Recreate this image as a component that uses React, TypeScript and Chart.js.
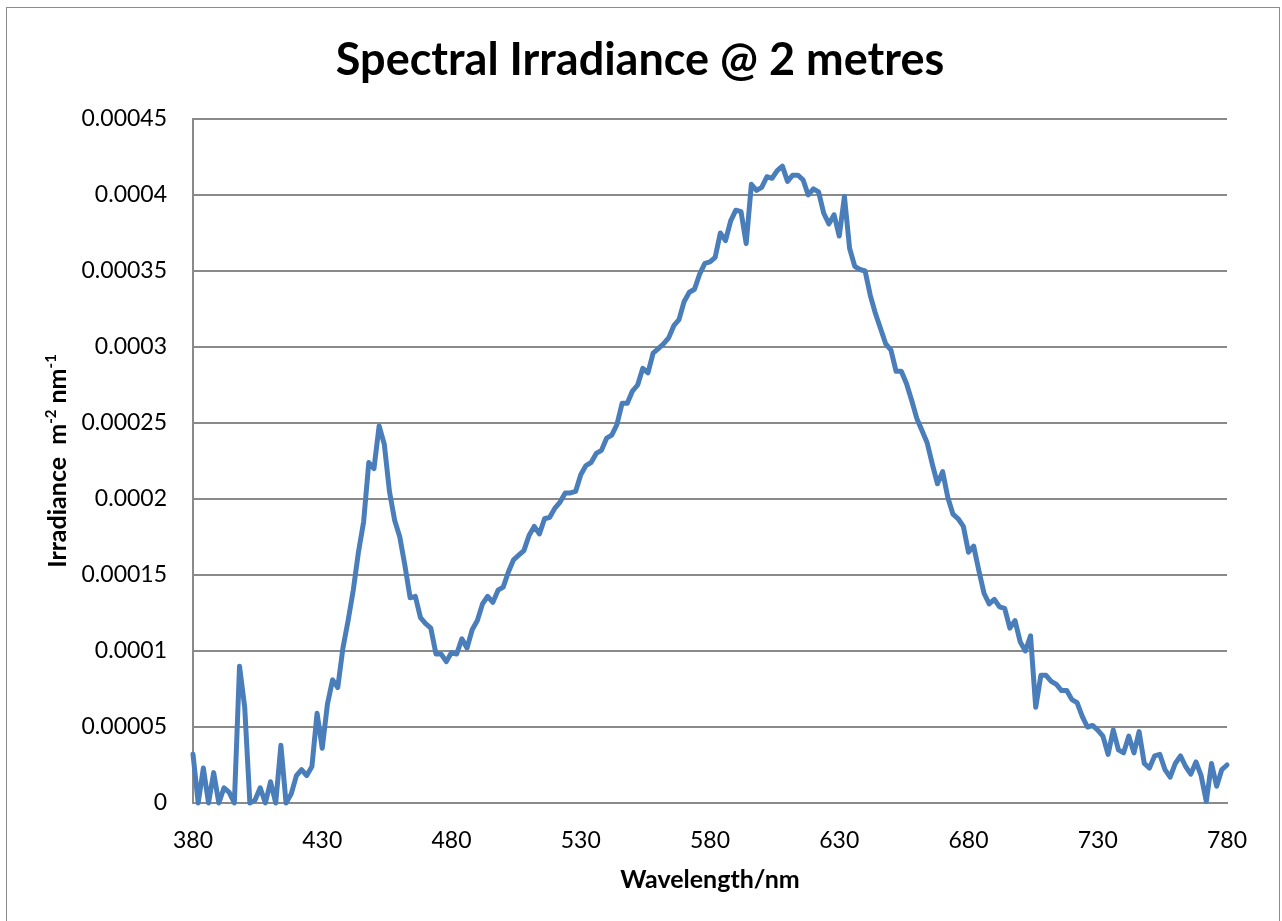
import React, { useEffect, useRef } from 'react';
import { Chart, registerables } from 'chart.js';

Chart.register(...registerables);

const TITLE = 'Spectral Irradiance @ 2 metres';
const X_TITLE = 'Wavelength/nm';
const Y_TITLE_PARTS: [string, boolean][] = [
  ['Irradiance  m', false],
  ['-2', true],
  [' nm', false],
  ['-1', true],
];

const X_TICKS = [380, 430, 480, 530, 580, 630, 680, 730, 780];
const Y_TICKS = [0, 0.00005, 0.0001, 0.00015, 0.0002, 0.00025, 0.0003, 0.00035, 0.0004, 0.00045];
const Y_TICK_LABELS = ['0', '0.00005', '0.0001', '0.00015', '0.0002', '0.00025', '0.0003', '0.00035', '0.0004', '0.00045'];

const WAVELENGTH_START = 380;
const WAVELENGTH_STEP = 2;

// irradiance values in units of 1e-5 (W m^-2 nm^-1), one every 2 nm from 380 to 780
const IRRADIANCE_E5 = [
  3.2, 0, 2.3, 0, 2.0, 0, 1.0, 0.7, 0, 9.0,
  6.3, 0, 0.2, 1.0, 0, 1.4, 0, 3.8, 0, 0.6,
  1.8, 2.2, 1.8, 2.4, 5.9, 3.6, 6.5, 8.1, 7.6, 10.2,
  12.0, 14.0, 16.5, 18.5, 22.4, 22.0, 24.8, 23.6, 20.5, 18.6,
  17.5, 15.6, 13.5, 13.6, 12.2, 11.8, 11.5, 9.8, 9.8, 9.3,
  9.9, 9.8, 10.8, 10.2, 11.4, 12.0, 13.1, 13.6, 13.2, 14.0,
  14.2, 15.2, 16.0, 16.3, 16.6, 17.6, 18.2, 17.7, 18.7, 18.8,
  19.4, 19.8, 20.4, 20.4, 20.5, 21.6, 22.2, 22.4, 23.0, 23.2,
  24.0, 24.2, 24.9, 26.3, 26.3, 27.1, 27.5, 28.6, 28.3, 29.6,
  29.9, 30.2, 30.6, 31.4, 31.8, 33.0, 33.6, 33.8, 34.8, 35.5,
  35.6, 35.9, 37.5, 37.0, 38.3, 39.0, 38.9, 36.8, 40.7, 40.3,
  40.5, 41.2, 41.1, 41.6, 41.9, 40.9, 41.3, 41.3, 41.0, 40.0,
  40.4, 40.2, 38.8, 38.1, 38.7, 37.3, 39.9, 36.5, 35.3, 35.1,
  35.0, 33.4, 32.2, 31.2, 30.2, 29.8, 28.4, 28.4, 27.6, 26.5,
  25.3, 24.5, 23.7, 22.3, 21.0, 21.8, 20.1, 19.0, 18.7, 18.2,
  16.5, 16.9, 15.3, 13.8, 13.1, 13.4, 12.9, 12.8, 11.5, 12.0,
  10.6, 10.0, 11.0, 6.3, 8.4, 8.4, 8.0, 7.8, 7.4, 7.4,
  6.8, 6.6, 5.7, 5.0, 5.1, 4.8, 4.4, 3.2, 4.8, 3.5,
  3.3, 4.4, 3.3, 4.7, 2.6, 2.3, 3.1, 3.2, 2.2, 1.7,
  2.6, 3.1, 2.4, 1.9, 2.7, 1.8, 0.1, 2.6, 1.1, 2.2,
  2.5,
];

const FONT = 'Lato, "Open Sans", sans-serif';
const LINE_COLOR = '#4a7ebb';
const GRID_COLOR = '#8a8a8a';

const decorPlugin = {
  id: 'decor',
  beforeDraw(chart: any) {
    const { ctx, width, height } = chart;
    ctx.save();
    ctx.fillStyle = '#ffffff';
    ctx.fillRect(0, 0, width, height);
    ctx.strokeStyle = '#8c8c8c';
    ctx.lineWidth = 1;
    ctx.strokeRect(6.5, 7.5, 1273, 940);
    ctx.restore();
  },
  afterDraw(chart: any) {
    const { ctx, chartArea } = chart;
    ctx.save();
    ctx.fillStyle = '#000000';
    ctx.textAlign = 'center';
    ctx.textBaseline = 'middle';
    ctx.font = `bold 45px ${FONT}`;
    ctx.fillText(TITLE, 640, 60);

    ctx.font = `bold 25px ${FONT}`;
    ctx.fillText(X_TITLE, (chartArea.left + chartArea.right) / 2, 880);

    // y title with superscripts
    const mainFont = `bold 25px ${FONT}`;
    const supFont = `bold 15px ${FONT}`;
    let total = 0;
    for (const [t, sup] of Y_TITLE_PARTS) {
      ctx.font = sup ? supFont : mainFont;
      total += ctx.measureText(t).width;
    }
    ctx.translate(57, (chartArea.top + chartArea.bottom) / 2);
    ctx.rotate(-Math.PI / 2);
    ctx.textAlign = 'left';
    ctx.textBaseline = 'alphabetic';
    let x = -total / 2;
    for (const [t, sup] of Y_TITLE_PARTS) {
      ctx.font = sup ? supFont : mainFont;
      ctx.fillText(t, x, sup ? -1 : 9);
      x += ctx.measureText(t).width;
    }
    ctx.restore();
  },
};

export default function App() {
  const ref = useRef<HTMLCanvasElement | null>(null);

  useEffect(() => {
    if (!ref.current) return;
    const points = IRRADIANCE_E5.map((v, i) => ({
      x: WAVELENGTH_START + i * WAVELENGTH_STEP,
      y: v * 1e-5,
    }));
    const chart = new Chart(ref.current, {
      type: 'line',
      data: {
        datasets: [
          {
            data: points,
            borderColor: LINE_COLOR,
            backgroundColor: LINE_COLOR,
            borderWidth: 5,
            pointRadius: 0,
            tension: 0,
            borderJoinStyle: 'round',
            borderCapStyle: 'round',
            clip: false,
          } as any,
        ],
      },
      options: {
        animation: false,
        responsive: false,
        devicePixelRatio: 1,
        layout: { padding: { left: 0, right: 55, top: 119, bottom: 0 } },
        plugins: {
          legend: { display: false },
          tooltip: { enabled: false },
          title: { display: false },
        },
        scales: {
          x: {
            type: 'linear',
            min: 380,
            max: 780,
            afterFit(scale: any) {
              scale.height = 118;
            },
            afterBuildTicks(scale: any) {
              scale.ticks = X_TICKS.map((v) => ({ value: v }));
            },
            grid: { display: false, drawTicks: false },
            border: { display: true, color: GRID_COLOR, width: 2 },
            ticks: {
              padding: 24,
              color: '#000',
              font: { family: FONT, size: 23 },
              maxRotation: 0,
              autoSkip: false,
              callback: (v: any) => String(v),
            },
          },
          y: {
            type: 'linear',
            min: 0,
            max: 0.00045,
            afterFit(scale: any) {
              scale.width = 193;
            },
            afterBuildTicks(scale: any) {
              scale.ticks = Y_TICKS.map((v) => ({ value: v }));
            },
            grid: { display: true, drawTicks: false, color: GRID_COLOR, lineWidth: 2 },
            border: { display: true, color: GRID_COLOR, width: 2 },
            ticks: {
              padding: 26,
              color: '#000',
              font: { family: FONT, size: 23 },
              autoSkip: false,
              callback: (_v: any, i: number) => Y_TICK_LABELS[i],
            },
          },
        },
      },
      plugins: [decorPlugin],
    });
    return () => chart.destroy();
  }, []);

  return (
    <div style={{ position: 'fixed', left: 0, top: 0, width: 1282, height: 921, background: '#fff' }}>
      <canvas ref={ref} width={1282} height={921} style={{ display: 'block', width: 1282, height: 921 }} />
    </div>
  );
}
